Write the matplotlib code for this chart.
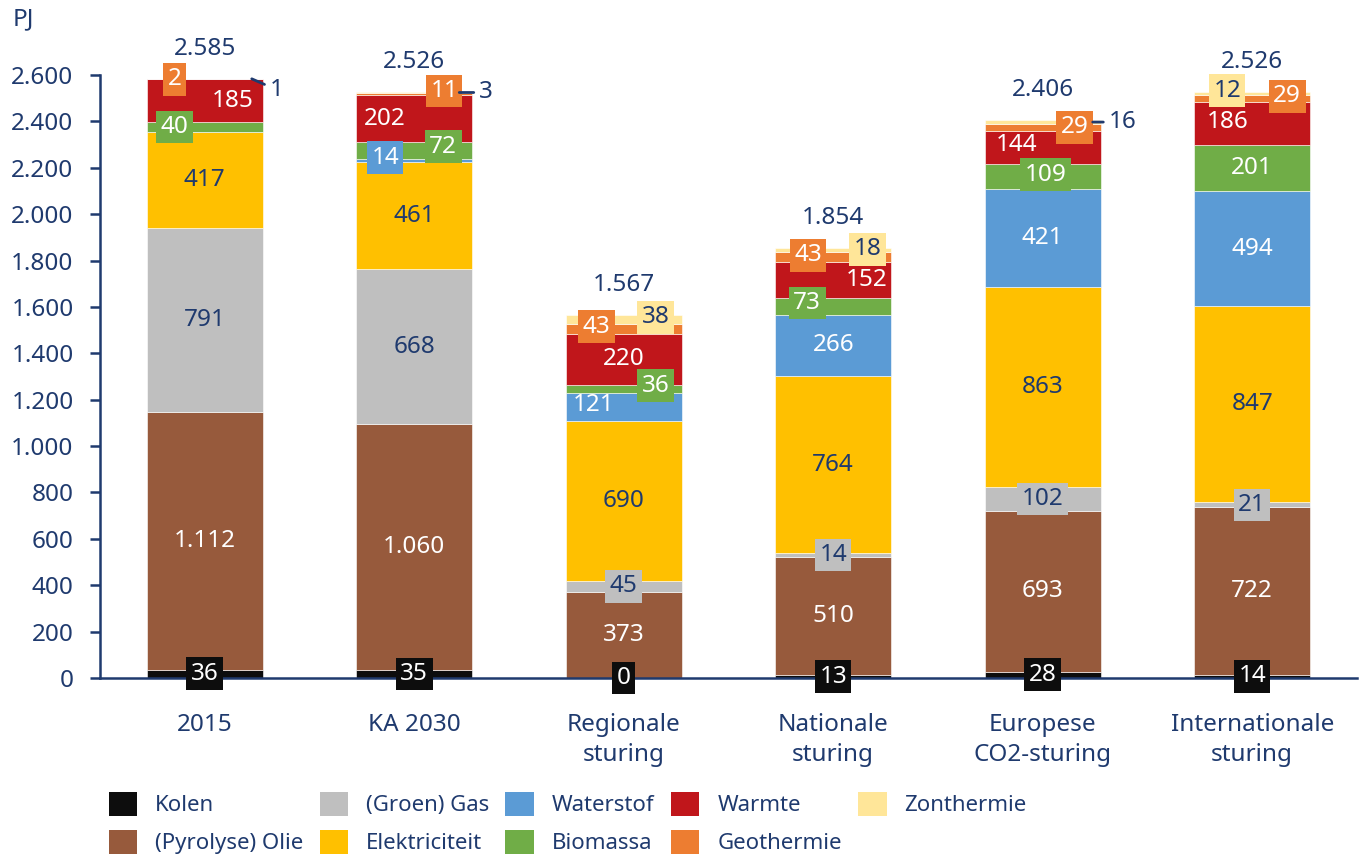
import numpy as np
import matplotlib
matplotlib.use("Agg")
import matplotlib.pyplot as plt
from matplotlib.ticker import FuncFormatter
from matplotlib.patches import Patch

plt.rcParams['font.family'] = ['Noto Sans', 'DejaVu Sans']

# data (PJ)
scenarios = ['2015', 'KA 2030', 'Regionale\nsturing', 'Nationale\nsturing',
             'Europese\nCO2-sturing', 'Internationale\nsturing']
carriers = ['Kolen', '(Pyrolyse) Olie', '(Groen) Gas', 'Elektriciteit', 'Waterstof',
            'Biomassa', 'Warmte', 'Geothermie', 'Zonthermie']
kolen = [36, 35, 0, 13, 28, 14]
olie = [1112, 1060, 373, 510, 693, 722]
gas = [791, 668, 45, 14, 102, 21]
elektriciteit = [417, 461, 690, 764, 863, 847]
waterstof = [np.nan, 14, 121, 266, 421, 494]
biomassa = [40, 72, 36, 73, 109, 201]
warmte = [185, 202, 220, 152, 144, 186]
geothermie = [2, 11, 43, 43, 29, 29]
zonthermie = [1, 3, 38, 18, 16, 12]
totals = [2585, 2526, 1567, 1854, 2406, 2526]

series = [kolen, olie, gas, elektriciteit, waterstof, biomassa, warmte, geothermie, zonthermie]

colors = ['#0D0D0D', '#975A3C', '#BFBFBF', '#FFC000', '#5B9BD5',
          '#70AD47', '#C0161B', '#ED7D31', '#FFE699']
label_colors = ['white', 'white', '#1F3A6E', '#1F3A6E', 'white',
                'white', 'white', 'white', '#1F3A6E']
navy = '#1F3A6E'
fs = 17.5

# label nudges in pixels (dx, dy up), keyed by (bar, carrier index)
nudge = {
    (0, 5): (-30, 0), (0, 6): (28, 0), (0, 7): (-30, 0),
    (1, 4): (-29, 3), (1, 5): (29, 4), (1, 6): (-29, 0), (1, 7): (30, 3),
    (2, 4): (-30, 2), (2, 5): (32, 3), (2, 7): (-27, 2), (2, 8): (32, 2),
    (3, 5): (-26, 3), (3, 6): (33, 0), (3, 7): (-25, 2), (3, 8): (34, 1),
    (4, 5): (3, 2), (4, 6): (-26, 2), (4, 7): (32, 0),
    (5, 6): (-25, 1), (5, 7): (35, 2), (5, 8): (-25, 3),
}
# labels placed outside with a leader line: (bar, carrier) -> (start dx px, text dx px, text dy px)
leaders = {(0, 8): (47, 72, -11), (1, 8): (45, 72, 0), (4, 8): (50, 80, 0)}

fig = plt.figure(figsize=(13.66, 8.56), dpi=100)
ax = fig.add_axes([0.0732, 0.2079, 0.9202, 0.7045])

x = np.arange(len(scenarios))
width = 0.555
bottom = np.zeros(len(scenarios))
px = 72 / 100  # pixels -> points

def fmt(v):
    return f'{v:,.0f}'.replace(',', '.')

for k, vals in enumerate(series):
    v = np.nan_to_num(np.array(vals, dtype=float))
    ax.bar(x, v, width, bottom=bottom, color=colors[k], edgecolor='white',
           linewidth=0.4, label=carriers[k], zorder=2)
    for i in range(len(x)):
        if np.isnan(vals[i]):
            continue
        mid = bottom[i] + v[i] / 2
        if (i, k) in leaders:
            sx, tx, ty = leaders[(i, k)]
            ax.annotate(fmt(vals[i]), xy=(x[i] + sx / 209.5, mid),
                        xytext=((tx - sx) * px, ty * px), textcoords='offset points',
                        ha='center', va='center', fontsize=fs, color=navy,
                        arrowprops=dict(arrowstyle='-', color=navy, lw=2,
                                        shrinkA=2, shrinkB=0),
                        zorder=5, annotation_clip=False)
            continue
        dx, dy = nudge.get((i, k), (0, 0))
        box = None
        if vals[i] < 115:
            box = dict(boxstyle='square,pad=0.18', fc=colors[k], ec='none')
        ax.annotate(fmt(vals[i]), xy=(x[i], mid), xytext=(dx * px, dy * px),
                    textcoords='offset points', ha='center', va='center',
                    fontsize=fs, color=label_colors[k], bbox=box, zorder=4,
                    annotation_clip=False)
    bottom += v

for i, t in enumerate(totals):
    ax.annotate(fmt(t), xy=(x[i], bottom[i]), xytext=(0, 30 * px),
                textcoords='offset points', ha='center', va='center',
                fontsize=fs, color=navy, annotation_clip=False)

ax.set_xlim(-0.5, len(x) - 0.5)
ax.set_ylim(0, 2600)
ax.set_yticks(np.arange(0, 2601, 200))
ax.yaxis.set_major_formatter(FuncFormatter(lambda v, p: fmt(v)))
ax.set_xticks(x)
ax.set_xticklabels(scenarios)
for lbl in ax.get_xticklabels():
    lbl.set_linespacing(1.35)

for s in ['top', 'right']:
    ax.spines[s].set_visible(False)
for s in ['left', 'bottom']:
    ax.spines[s].set_color(navy)
    ax.spines[s].set_linewidth(1.8)
ax.tick_params(axis='y', direction='out', length=7, width=1.8, color=navy,
               labelcolor=navy, labelsize=fs, pad=12)
ax.tick_params(axis='x', length=0, labelcolor=navy, labelsize=fs, pad=25)

fig.text(0.009, 0.977, 'PJ', fontsize=fs, color=navy, ha='left', va='center')

handles = [Patch(facecolor=c, edgecolor='none') for c in colors]
leg = fig.legend(handles, carriers, loc='upper left', bbox_to_anchor=(0.0795, 0.075),
                 ncol=5, frameon=False, fontsize=16, handlelength=1.3,
                 handleheight=1.3, handletextpad=0.8, columnspacing=0.72,
                 labelspacing=0.6, borderaxespad=0, borderpad=0)
for t in leg.get_texts():
    t.set_color(navy)

fig.savefig('out.png', dpi=100)
